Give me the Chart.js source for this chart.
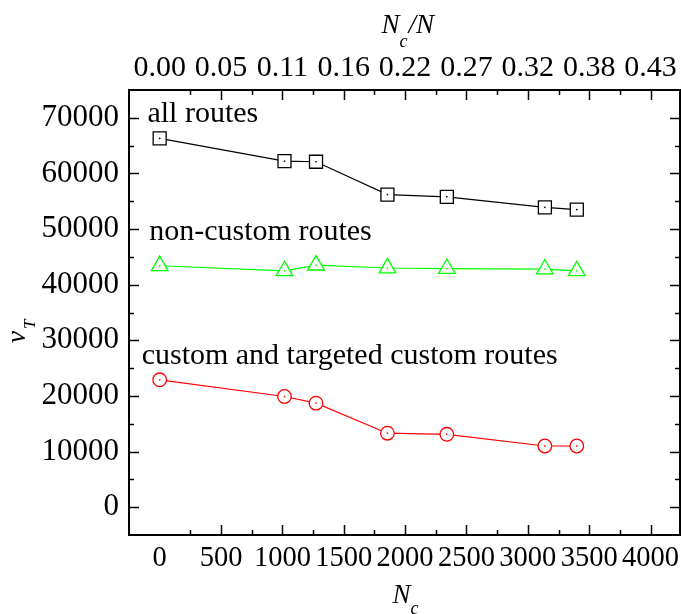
<!DOCTYPE html>
<html lang="en">
<head>
<meta charset="UTF-8" />
<title>v_T versus N_c</title>
<script src="https://cdn.jsdelivr.net/npm/chart.js"></script>
<style>
  html, body { margin: 0; padding: 0; background: #fff; }
  #wrap { width: 681px; height: 614px; }
</style>
</head>
<body>
<div id="wrap"><canvas id="chart" width="681" height="614"></canvas></div>
<script>
  // --- data ---
  const nc = [0, 1017, 1274, 1856, 2340, 3139, 3399];
  const allRoutes = [66300, 62200, 62100, 56200, 55800, 53900, 53500];
  const nonCustom = [43400, 42500, 43500, 43000, 42900, 42800, 42500];
  const customRoutes = [22900, 19900, 18700, 13300, 13100, 11000, 11000];

  const xTicks = [0, 500, 1000, 1500, 2000, 2500, 3000, 3500, 4000];
  const topTickLabels = ["0.00", "0.05", "0.11", "0.16", "0.22", "0.27", "0.32", "0.38", "0.43"];
  const yTicks = [0, 10000, 20000, 30000, 40000, 50000, 60000, 70000];

  const seriesNames = ["all routes", "non-custom routes", "custom and targeted custom routes"];
  // where the series names sit (left edge, baseline) in data units
  const nameAnchors = [[-100, 69300], [-85, 48100], [-147, 25800]];

  const SERIF = "'Liberation Serif', 'DejaVu Serif', serif";

  const toPoints = ys => nc.map((x, i) => ({ x: x, y: ys[i] }));

  function series(ys, color, style, radius) {
    return {
      data: toPoints(ys),
      borderColor: color,
      borderWidth: 1.2,
      pointStyle: style,
      pointRadius: radius,
      pointBorderWidth: 1.3,
      pointBorderColor: color,
      pointBackgroundColor: "#fff",
      tension: 0,
      fill: false
    };
  }

  // --- frame, inward ticks, titles and labels ---
  const decorations = {
    id: "decorations",
    afterDraw(chart) {
      const ctx = chart.ctx;
      const a = chart.chartArea;
      const sx = chart.scales.x, sy = chart.scales.y;
      ctx.save();
      ctx.strokeStyle = "#000";
      ctx.lineWidth = 1.5;

      for (let v = 250; v < sx.max; v += 250) {
        const px = Math.round(sx.getPixelForValue(v)) + 0.5;
        const len = v % 500 === 0 ? 10 : 5;
        ctx.beginPath();
        ctx.moveTo(px, a.bottom); ctx.lineTo(px, a.bottom - len);
        ctx.moveTo(px, a.top); ctx.lineTo(px, a.top + len);
        ctx.stroke();
      }
      for (let v = 0; v < sy.max; v += 5000) {
        const py = Math.round(sy.getPixelForValue(v)) + 0.5;
        const len = v % 10000 === 0 ? 10 : 5;
        ctx.beginPath();
        ctx.moveTo(a.left, py); ctx.lineTo(a.left + len, py);
        ctx.moveTo(a.right, py); ctx.lineTo(a.right - len, py);
        ctx.stroke();
      }
      ctx.lineWidth = 2;
      ctx.strokeRect(a.left, a.top, a.right - a.left, a.bottom - a.top);

      // little dot in the middle of every marker
      chart.data.datasets.forEach((ds, i) => {
        ctx.fillStyle = ds.borderColor;
        chart.getDatasetMeta(i).data.forEach(p => ctx.fillRect(p.x - 0.75, p.y - 0.75, 1.5, 1.5));
      });

      // series names
      ctx.fillStyle = "#000";
      ctx.font = "30px " + SERIF;
      ctx.textAlign = "left";
      ctx.textBaseline = "alphabetic";
      seriesNames.forEach((t, i) => {
        ctx.fillText(t, sx.getPixelForValue(nameAnchors[i][0]), sy.getPixelForValue(nameAnchors[i][1]));
      });

      // axis titles
      const cx = (a.left + a.right) / 2;
      const big = "italic 27px " + SERIF, small = "italic 18px " + SERIF;
      // top: Nc/N
      let x = cx - 23;
      ctx.font = big; ctx.fillText("N", x, 33);
      x += ctx.measureText("N").width;
      ctx.font = small; ctx.fillText("c", x, 47);
      x += ctx.measureText("c").width + 1;
      ctx.font = big; ctx.fillText("/N", x, 33);
      // bottom: Nc
      x = cx - 12;
      ctx.font = big; ctx.fillText("N", x, 603);
      x += ctx.measureText("N").width;
      ctx.font = small; ctx.fillText("c", x, 614);
      // left: vT
      ctx.translate(25, 343);
      ctx.rotate(-Math.PI / 2);
      ctx.font = big; ctx.fillText("v", 0, 0);
      ctx.font = "italic 17px " + SERIF; ctx.fillText("T", 14, 10);
      ctx.restore();
    }
  };

  const xBase = {
    type: "linear",
    min: -250,
    max: 4240,
    afterBuildTicks: s => { s.ticks = xTicks.map(v => ({ value: v })); },
    grid: { display: false, drawTicks: false },
    border: { display: false }
  };

  new Chart(document.getElementById("chart"), {
    type: "line",
    data: {
      datasets: [
        series(allRoutes, "#000000", "rect", 9.2),
        series(nonCustom, "#00ff00", "triangle", 9.6),
        series(customRoutes, "#ff0000", "circle", 6.8)
      ]
    },
    options: {
      responsive: false,
      animation: false,
      layout: { autoPadding: false, padding: { right: 1, left: 0, top: 0, bottom: 0 } },
      plugins: { legend: { display: false }, tooltip: { enabled: false } },
      scales: {
        x: Object.assign({}, xBase, {
          position: "bottom",
          ticks: {
            font: { family: SERIF, size: 28.5 }, color: "#000", padding: 6, maxRotation: 0, autoSkip: false,
            callback: v => String(v)
          },
          afterFit: s => { s.height = 79; s.paddingLeft = 0; s.paddingRight = 0; }
        }),
        x2: Object.assign({}, xBase, {
          axis: "x",
          position: "top",
          ticks: {
            font: { family: SERIF, size: 30 }, color: "#000", padding: 4, maxRotation: 0, autoSkip: false,
            callback: v => topTickLabels[xTicks.indexOf(v)]
          },
          afterFit: s => { s.height = 90; s.paddingLeft = 0; s.paddingRight = 0; }
        }),
        y: {
          type: "linear",
          min: -5000,
          max: 75000,
          afterBuildTicks: s => { s.ticks = yTicks.map(v => ({ value: v })); },
          ticks: { font: { family: SERIF, size: 31 }, color: "#000", padding: 10, callback: v => String(v) },
          grid: { display: false, drawTicks: false },
          border: { display: false },
          afterFit: s => { s.width = 129; s.paddingTop = 0; s.paddingBottom = 0; }
        }
      }
    },
    plugins: [decorations]
  });
</script>
</body>
</html>
